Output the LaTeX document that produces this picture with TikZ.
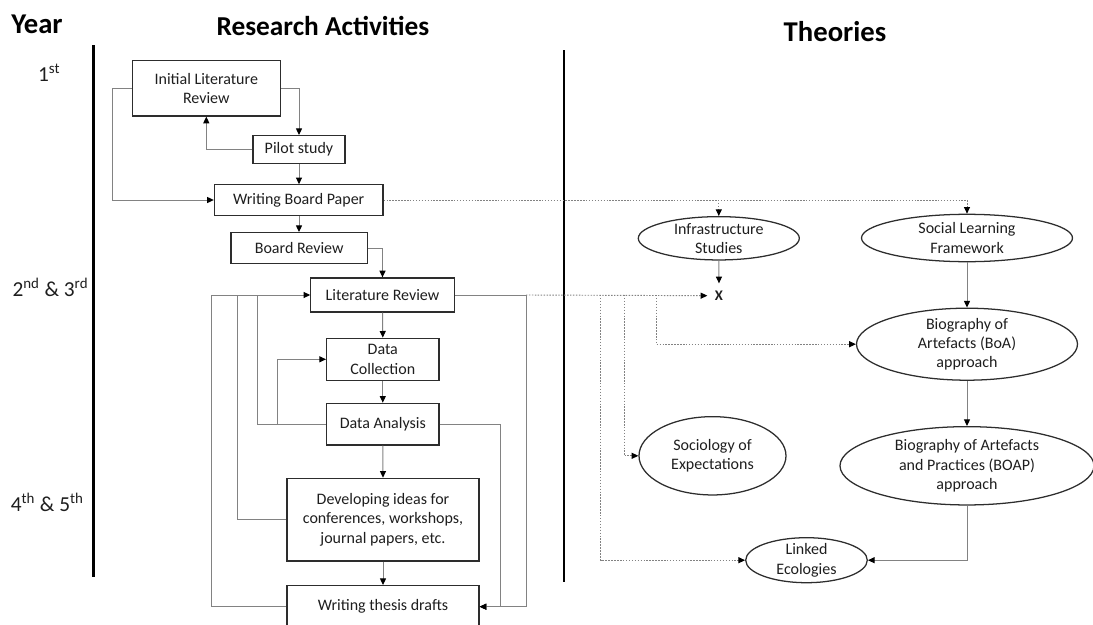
\documentclass[tikz,border=0pt]{standalone}
\usepackage{fontspec}
\setmainfont{Carlito}
\usetikzlibrary{arrows.meta,shapes.geometric}
\definecolor{inkcol}{RGB}{30,30,30}
\definecolor{edgecol}{RGB}{45,45,45}
\definecolor{linkcol}{RGB}{130,130,130}
\begin{document}
\begin{tikzpicture}[x=0.75pt,y=-0.75pt,
  every node/.style={text=inkcol, font=\fontsize{12}{14.5}\selectfont, inner sep=0pt, align=center},
  sz/.style 2 args={minimum width=#1*0.75pt, minimum height=#2*0.75pt},
  box/.style={draw=edgecol, line width=0.95pt, rectangle},
  oval/.style={draw=edgecol, line width=0.95pt, ellipse},
  conn/.style={draw=linkcol, line width=0.75pt},
  dots/.style={draw=linkcol, line width=0.7pt, dash pattern=on 1.1pt off 1.1pt},
  arr/.style={-{Triangle[length=5pt,width=4.5pt,color=black]}},
  yearlab/.style={font=\fontsize{16}{19}\selectfont, anchor=base west},
  head/.style={font=\bfseries\fontsize{20.5}{24}\selectfont, text=black, anchor=base},
  rule/.style={line width=2.2pt, draw=black},
]
\useasboundingbox (0,0) rectangle (1093,625);
\clip (0,0) rectangle (1093,625);

% column headings and year labels
\node[head, anchor=base west, font=\bfseries\fontsize{21.5}{25}\selectfont] (hyear) at (11,33.5) {Year};
\node[head] (hact) at (323,35) {Research Activities};
\node[head, font=\bfseries\fontsize{21.5}{25}\selectfont] (htheo) at (835,41) {Theories};
\node[yearlab] (y1) at (37.9,81.7) {1\textsuperscript{st}};
\node[yearlab] (y2) at (12.3,296.7) {2\textsuperscript{nd} \& 3\textsuperscript{rd}};
\node[yearlab] (y3) at (10.5,511.7) {4\textsuperscript{th} \& 5\textsuperscript{th}};

% column rules
\coordinate (ruleAtop) at (93.3,45);
\coordinate (ruleAbot) at (93.3,577);
\coordinate (ruleBtop) at (564,50);
\coordinate (ruleBbot) at (564,582);
\draw[rule] (ruleAtop) -- (ruleAbot);
\draw[rule] (ruleBtop) -- (ruleBbot);

% research activities
\node[box, sz={148}{55.3}] (ilr) at (206.3,88.3) {Initial Literature\\Review};
\node[box, sz={92}{27.6}] (pilot) at (299,149.5) {Pilot study};
\node[box, sz={168.5}{30.3}] (wbp) at (298.7,200) {Writing Board Paper};
\node[box, sz={136.3}{30.6}] (br) at (299.2,248) {Board Review};
\node[box, sz={143.3}{34}] (lr) at (382.5,295) {Literature Review};
\node[box, sz={112.3}{42}] (dc) at (382.8,359.3) {Data\\Collection};
\node[box, sz={112.3}{41.7}] (da) at (382.8,424.2) {Data Analysis};
\node[box, sz={192}{82.7}] (di) at (383,519.7) {Developing ideas for\\conferences, workshops,\\journal papers, etc.};
\node[box, sz={192}{42}] (wtd) at (383,606.7) {Writing thesis drafts};

% theories
\node[oval, sz={161}{43.3}, label={center:{Infrastructure\\Studies}}] (infra) at (718.8,238.3) {};
\node[oval, sz={211}{47.4}, label={center:{Social Learning\\Framework}}] (slf) at (967,238) {};
\node[font=\bfseries\fontsize{11}{13}\selectfont, inner sep=5.5pt] (xmark) at (719,295.7) {X};
\node[oval, sz={221}{72}, label={center:{Biography of\\Artefacts (BoA)\\approach}}] (boa) at (967,344.2) {};
\node[oval, sz={147}{78.3}, label={center:{Sociology of\\Expectations}}] (soc) at (712.5,455.8) {};
\node[oval, sz={254}{78.3}, label={center:{Biography of Artefacts\\and Practices (BOAP)\\approach}}] (boap) at (967,465.8) {};
\node[oval, sz={121.6}{45}, label={center:{Linked\\Ecologies}}] (le) at (806.5,560.2) {};

% bend points of the feedback loops
\coordinate (loopIlr) at (112.3,88.3);
\coordinate (busA) at (211,295);
\coordinate (busB) at (237.3,295);
\coordinate (busC) at (257.3,295);
\coordinate (loopDc) at (277.3,424.2);
\coordinate (rightDa) at (500.7,424.2);
\coordinate (lrTurn) at (526,295);
\coordinate (tapLe) at (600.7,295);
\coordinate (tapSoc) at (624,295);
\coordinate (tapBoa) at (656,295);

% year 1 flow
\draw[conn,arr] (ilr.east) -| (pilot.north);
\draw[conn,arr] (pilot.west) -| (ilr.south);
\draw[conn,arr] (ilr.west) -- (loopIlr) |- (wbp.west);
\draw[conn,arr] (pilot.south) -- (pilot.south |- wbp.north);
\draw[conn,arr] (pilot.south |- wbp.south) -- (pilot.south |- br.north);
\draw[conn,arr] (br.east) -| (lr.north);

% main research cycle
\draw[conn,arr] (lr.south) -- (dc.north);
\draw[conn,arr] (dc.south) -- (da.north);
\draw[conn,arr] (da.south) -- (di.north);
\draw[conn,arr] (di.south) -- (wtd.north);
\draw[conn,arr] (wtd.west) -| (busA) -- (lr.west);
\draw[conn] (di.west) -| (busB);
\draw[conn] (da.west) -| (busC);
\draw[conn,arr] (loopDc) |- (dc.west);
\draw[conn,arr] (da.east) -- (rightDa) |- (wtd.east);
\draw[conn,arr] (lr.east) -- (lrTurn) |- (wtd.east);

% links into the theories
\draw[dots,arr] (wbp.east) -| (slf.north);
\draw[dots,arr] (infra.north |- wbp.east) -- (infra.north);
\draw[dots,arr] (lrTurn) -- (xmark.west);
\draw[dots,arr] (tapBoa) |- (boa.west);
\draw[dots,arr] (tapSoc) |- (soc.west);
\draw[dots,arr] (tapLe) |- (le.west);

% links between theories
\draw[conn,arr] (infra.south) -- (xmark.north);
\draw[conn,arr] (slf.south) -- (boa.north);
\draw[conn,arr] (boa.south) -- (boap.north);
\draw[conn,arr] (boap.south) |- (le.east);
\end{tikzpicture}
\end{document}
